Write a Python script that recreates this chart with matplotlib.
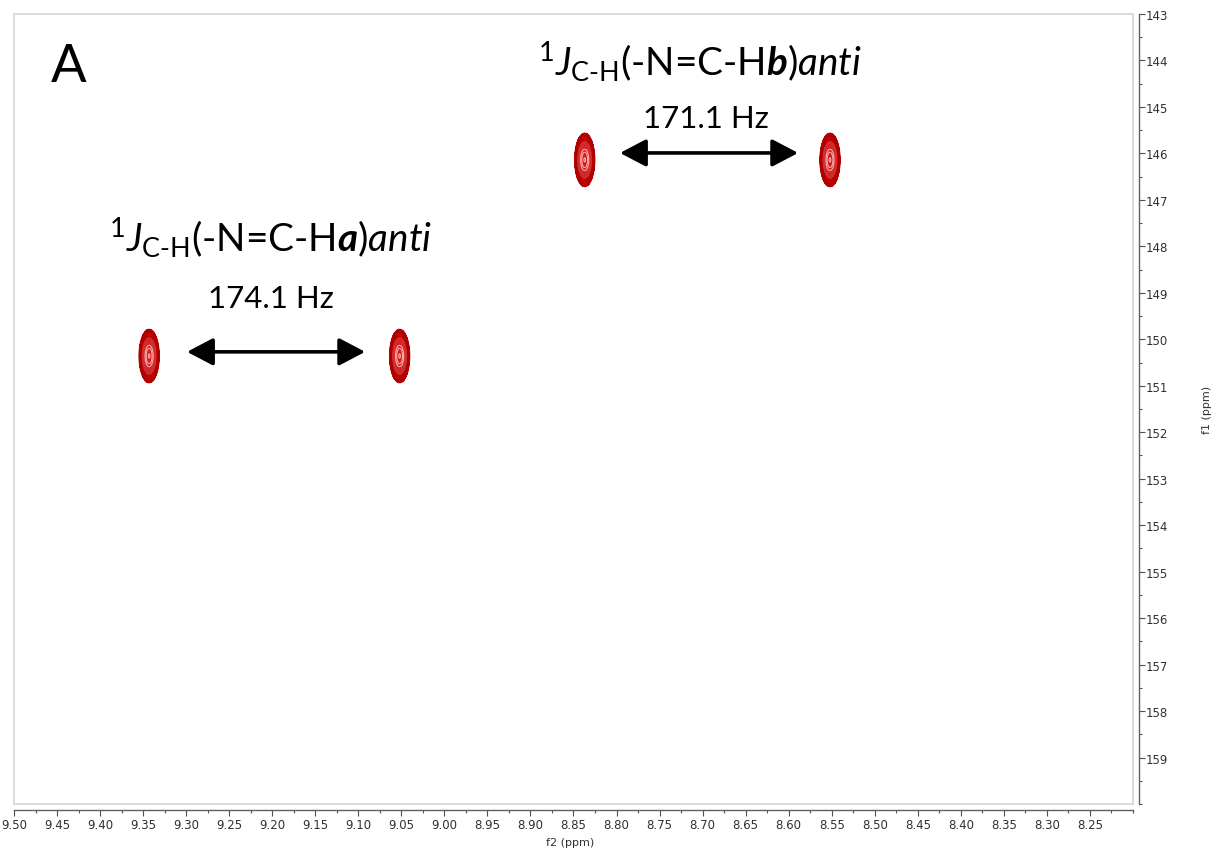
import numpy as np
import matplotlib
matplotlib.use('Agg')
import matplotlib.pyplot as plt
from matplotlib.patches import Rectangle
from matplotlib.ticker import MultipleLocator, FormatStrFormatter

# cross peaks (f2 ppm, f1 ppm)
peak_f2 = [9.343, 9.052, 8.837, 8.552]
peak_f1 = [150.36, 150.36, 146.14, 146.14]

# coupling arrows: (f2 start, f2 end, f1)
arrow_a = (9.299, 9.092, 150.27)
arrow_b = (8.796, 8.589, 145.99)
coupling_labels = ['174.1 Hz', '171.1 Hz']

xlim = (9.50, 8.20)
ylim = (160.0, 143.0)
xticks = np.arange(8.25, 9.501, 0.05)
yticks = np.arange(143, 160, 1)

plt.rcParams['mathtext.fontset'] = 'custom'
plt.rcParams['mathtext.rm'] = 'Lato'
plt.rcParams['mathtext.it'] = 'Lato:italic'
plt.rcParams['mathtext.bf'] = 'Lato:bold'
plt.rcParams['mathtext.bfit'] = 'Lato:bold:italic'

W, H = 1214, 853
fig = plt.figure(figsize=(W / 100, H / 100), dpi=100)
ax = fig.add_axes([14 / W, 48 / H, 1119 / W, 790 / H])
ax.set_xlim(*xlim)
ax.set_ylim(*ylim)

# contour peaks
xs = np.linspace(xlim[1], xlim[0], 2400)
ys = np.linspace(ylim[1], ylim[0], 900)
X, Y = np.meshgrid(xs, ys)
Z = np.zeros_like(X)
for px, py in zip(peak_f2, peak_f1):
    Z += np.exp(-((X - px) ** 2) / (2 * 0.0048 ** 2) - ((Y - py) ** 2) / (2 * 0.235 ** 2))
levels = np.geomspace(0.05, 0.98, 14)
ax.contourf(X, Y, Z, levels=[0.05, 1.1], colors=['#e01515'])
ax.contour(X, Y, Z, levels=levels, colors=['#b00000'] * 7 + ['#d03030'] * 4 + ['#f0b0b0'] * 3,
           linewidths=0.8)

# arrows
for x0, x1, yy in [arrow_a, arrow_b]:
    ax.annotate('', xy=(x1, yy), xytext=(x0, yy),
                arrowprops=dict(arrowstyle='<|-|>,head_length=0.8,head_width=0.42',
                                mutation_scale=20, lw=2.6, color='black',
                                shrinkA=0, shrinkB=0))

txt_font = 'Lato'
ax.text(9.2015, 149.11, coupling_labels[0], ha='center', va='center',
        fontsize=22.5, family=txt_font)
ax.text(8.696, 145.24, coupling_labels[1], ha='center', va='center',
        fontsize=22.5, family=txt_font)
ax.text(9.2015, 148.10,
        r'$^{1}\mathit{J}_{\text{C-H}}\text{(-N=C-H}\mathbfit{a}\text{)}\mathit{anti}$',
        ha='center', va='baseline', fontsize=27.8)
ax.text(8.703, 144.31,
        r'$^{1}\mathit{J}_{\text{C-H}}\text{(-N=C-H}\mathbfit{b}\text{)}\mathit{anti}$',
        ha='center', va='baseline', fontsize=27.8)
ax.text(9.437, 144.14, 'A', ha='center', va='center', fontsize=38, family=txt_font)

# frame and axes styling (NMR-software look)
ax.add_patch(Rectangle((0, 0), 1, 1, transform=ax.transAxes, fill=False,
                       edgecolor='#d8d8d8', lw=1.3, clip_on=False))
for s in ['top', 'left']:
    ax.spines[s].set_visible(False)
for s in ['bottom', 'right']:
    ax.spines[s].set_position(('outward', 4.3))
    ax.spines[s].set_color('#606060')
    ax.spines[s].set_linewidth(1.0)

ax.set_xticks(xticks)
ax.xaxis.set_minor_locator(MultipleLocator(0.025))
ax.xaxis.set_major_formatter(FormatStrFormatter('%.2f'))
ax.set_yticks(yticks)
ax.yaxis.set_minor_locator(MultipleLocator(0.5))
ax.yaxis.set_major_formatter(FormatStrFormatter('%d'))
ax.set_xlim(*xlim)
ax.set_ylim(*ylim)
ax.yaxis.tick_right()
ax.tick_params(axis='both', which='major', length=4, width=0.8, color='#505050',
               labelsize=8.5, labelcolor='#303030', pad=2)
ax.tick_params(axis='both', which='minor', length=2, width=0.8, color='#505050')
ax.tick_params(axis='y', which='both', pad=1)

fig.text(570 / W, 1 - 843 / H, 'f2 (ppm)', ha='center', va='center',
         fontsize=8, color='#303030')
fig.text(1207 / W, 1 - 410 / H, 'f1 (ppm)', ha='center', va='center',
         fontsize=8, color='#303030', rotation=90)

fig.savefig('out.png', dpi=100)
